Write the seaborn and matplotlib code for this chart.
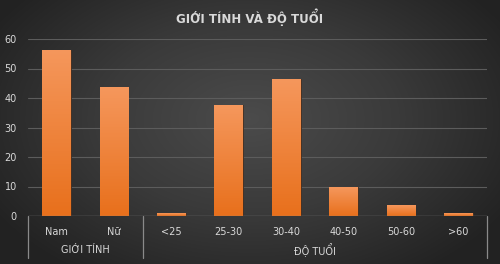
import numpy as np
import pandas as pd
import matplotlib
matplotlib.use("Agg")
import matplotlib.pyplot as plt
import seaborn as sns
from matplotlib.colors import LinearSegmentedColormap

categories = ["Nam", "Nữ", "<25", "25-30", "30-40", "40-50", "50-60", ">60"]
values = [56.3, 43.7, 1.0, 37.6, 46.4, 9.8, 3.6, 1.0]
groups = ["GIỚI TÍNH", "ĐỘ TUỔI"]
group_sizes = [2, 6]
title = "GIỚI TÍNH VÀ ĐỘ TUỔI"
yticks = [0, 10, 20, 30, 40, 50, 60]

sns.set_style("dark")
plt.rcParams["font.family"] = ["DejaVu Sans"]

W, H = 500, 264
fig = plt.figure(figsize=(W / 100, H / 100), dpi=100)

# radial gradient background
bg = fig.add_axes([0, 0, 1, 1], zorder=-10)
yy, xx = np.mgrid[0:1:264j, 0:1:500j]
r = np.sqrt(((xx - 0.5) / 0.75) ** 2 + ((yy - 0.45) / 0.9) ** 2)
bgcmap = LinearSegmentedColormap.from_list("bg", ["#4b4b4b", "#3a3a3a", "#222222"])
bg.imshow(r, cmap=bgcmap, aspect="auto", extent=[0, 1, 0, 1], vmin=0, vmax=0.8)
bg.set_axis_off()

ax = fig.add_axes([28 / W, 1 - 216 / H, (487 - 28) / W, (216 - 39) / H])
ax.set_facecolor("none")

df = pd.DataFrame({"cat": categories, "val": values})
sns.barplot(data=df, x="cat", y="val", ax=ax, color="#ef7d2e", width=0.5,
            edgecolor="#3a2a20", linewidth=0.6, zorder=3)

# vertical gradient in bars
barcmap = LinearSegmentedColormap.from_list("bar", ["#e8701c", "#f5975c"])
grad = np.linspace(0, 1, 100).reshape(-1, 1)
for p in ax.patches:
    x0, y0 = p.get_x(), p.get_y()
    w, h = p.get_width(), p.get_height()
    im = ax.imshow(grad, cmap=barcmap, aspect="auto", origin="lower",
                   extent=[x0, x0 + w, y0, y0 + h], zorder=3.5)
    im.set_clip_path(p)

ax.set_xlim(-0.5, len(categories) - 0.5)
ax.set_ylim(0, 60)
ax.set_yticks(yticks)
ax.set_yticklabels([str(t) for t in yticks])
ax.grid(axis="y", color="#5c5c5c", linewidth=0.8, zorder=0)
ax.grid(axis="x", visible=False)
for s in ax.spines.values():
    s.set_visible(False)
ax.axhline(0, color="#8a8a8a", linewidth=0.9, zorder=4)
ax.tick_params(axis="y", length=0, pad=8, labelsize=7, labelcolor="#d9d9d9")
ax.tick_params(axis="x", length=0, pad=8, labelsize=7, labelcolor="#d9d9d9")
ax.set_xlabel("")
ax.set_ylabel("")

# group separators and labels
trans = ax.get_xaxis_transform()
depth = -42 / 177
start = -0.5
bounds = [start]
for gs in group_sizes:
    bounds.append(bounds[-1] + gs)
for b in bounds:
    ax.plot([b, b], [0, depth], transform=trans, color="#8a8a8a",
            linewidth=0.9, clip_on=False)
for g, a, b in zip(groups, bounds[:-1], bounds[1:]):
    ax.text((a + b) / 2, -34 / 177, g, transform=trans, ha="center", va="center",
            fontsize=7, color="#d9d9d9")

fig.text(0.5, 1 - 17 / H, title, ha="center", va="center", fontsize=8.5,
         fontweight="bold", color="#d9d9d9")

fig.savefig("out.png", dpi=100)
